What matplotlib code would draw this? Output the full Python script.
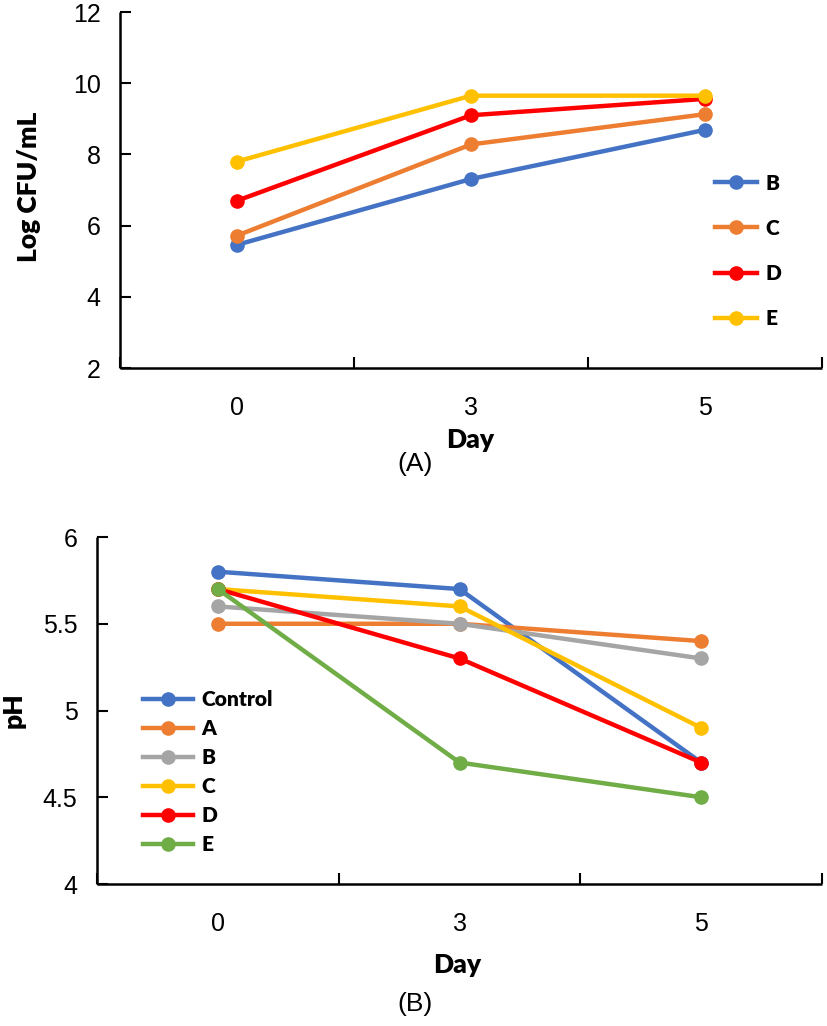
import matplotlib

matplotlib.use("Agg")
import matplotlib.pyplot as plt
from matplotlib import font_manager

days = ["0", "3", "5"]

# (A) Log CFU/mL
cfu_groups = ["B", "C", "D", "E"]
cfu_b = [5.46, 7.31, 8.69]
cfu_c = [5.72, 8.28, 9.13]
cfu_d = [6.70, 9.10, 9.56]
cfu_e = [7.80, 9.65, 9.65]

# (B) pH
ph_groups = ["Control", "A", "B", "C", "D", "E"]
ph_control = [5.8, 5.7, 4.7]
ph_a = [5.5, 5.5, 5.4]
ph_b = [5.6, 5.5, 5.3]
ph_c = [5.7, 5.6, 4.9]
ph_d = [5.7, 5.3, 4.7]
ph_e = [5.7, 4.7, 4.5]

colors = {
    "Control": "#4472C4",
    "A": "#ED7D31",
    "B": "#A5A5A5",
    "C": "#FFC000",
    "D": "#FF0000",
    "E": "#70AD47",
}
cfu_colors = ["#4472C4", "#ED7D31", "#FF0000", "#FFC000"]

installed = {f.name for f in font_manager.fontManager.ttflist}
narrow = "Liberation Sans Narrow" if "Liberation Sans Narrow" in installed else "Liberation Sans"
tick_font = [narrow, "DejaVu Sans"]
bold_font = ["Lato", "DejaVu Sans"]


def style_axis(ax, ylim, yticks):
    x = range(len(days))
    ax.set_xlim(-0.5, len(days) - 0.5)
    ax.set_ylim(*ylim)
    ax.set_yticks(yticks)
    ax.set_yticklabels([f"{t:g}" for t in yticks], family=tick_font, fontsize=18)
    ax.set_xticks([-0.5, 0.5, 1.5, 2.5])
    ax.set_xticklabels([])
    ax.set_xticks(list(x), minor=True)
    ax.set_xticklabels(days, minor=True, family=tick_font, fontsize=18)
    ax.tick_params(axis="x", which="major", direction="in", length=8, width=1.5)
    ax.tick_params(axis="x", which="minor", length=0, pad=20)
    ax.tick_params(axis="y", direction="in", length=8, width=1.5, pad=14)
    for side in ("top", "right"):
        ax.spines[side].set_visible(False)
    for side in ("left", "bottom"):
        ax.spines[side].set_linewidth(1.8)
        ax.spines[side].set_color("black")
        ax.spines[side].set_capstyle("butt")


fig = plt.figure(figsize=(8.27, 10.26), dpi=100)

# ---- (A)
ax1 = fig.add_axes([0.1451, 0.6413, 0.8489, 0.3470])
for name, vals, col in zip(cfu_groups, [cfu_b, cfu_c, cfu_d, cfu_e], cfu_colors):
    ax1.plot(range(len(days)), vals, color=col, lw=3.2, marker="o", ms=9.5, label=name,
             clip_on=False)
style_axis(ax1, (2, 12), [2, 4, 6, 8, 10, 12])
ax1.set_xlabel("Day", family=bold_font, fontweight="heavy", fontsize=19)
ax1.xaxis.set_label_coords(0.4986, -0.168)
ax1.set_ylabel("Log CFU/mL", family=bold_font, fontweight="heavy", fontsize=19)
ax1.yaxis.set_label_coords(-0.113, 0.508)
ax1.legend(loc="center left", bbox_to_anchor=(0.848, 0.329), frameon=False,
           borderpad=0, borderaxespad=0, handlelength=2.0, handletextpad=0.4,
           labelspacing=1.26, prop={"family": bold_font, "weight": "heavy", "size": 15})

# ---- (B)
ax2 = fig.add_axes([0.1173, 0.1384, 0.8767, 0.3382])
ph_series = [ph_control, ph_a, ph_b, ph_c, ph_d, ph_e]
for name, vals in zip(ph_groups, ph_series):
    ax2.plot(range(len(days)), vals, color=colors[name], lw=3.2, marker="o", ms=9.5,
             label=name, clip_on=False)
style_axis(ax2, (4, 6), [4, 4.5, 5, 5.5, 6])
ax2.set_xlabel("Day", family=bold_font, fontweight="heavy", fontsize=19)
ax2.xaxis.set_label_coords(0.497, -0.2)
ax2.set_ylabel("pH", family=bold_font, fontweight="heavy", fontsize=19)
ax2.yaxis.set_label_coords(-0.098, 0.5)
ax2.legend(loc="center left", bbox_to_anchor=(0.0634, 0.322), frameon=False,
           borderpad=0, borderaxespad=0, handlelength=2.4, handletextpad=0.4,
           labelspacing=0.48, prop={"family": bold_font, "weight": "heavy", "size": 15})

fig.text(0.502, 0.548, "(A)", ha="center", va="center", family=tick_font, fontsize=19)
fig.text(0.502, 0.0214, "(B)", ha="center", va="center", family=tick_font, fontsize=19)

fig.savefig("out.png", dpi=100)
plt.close(fig)
